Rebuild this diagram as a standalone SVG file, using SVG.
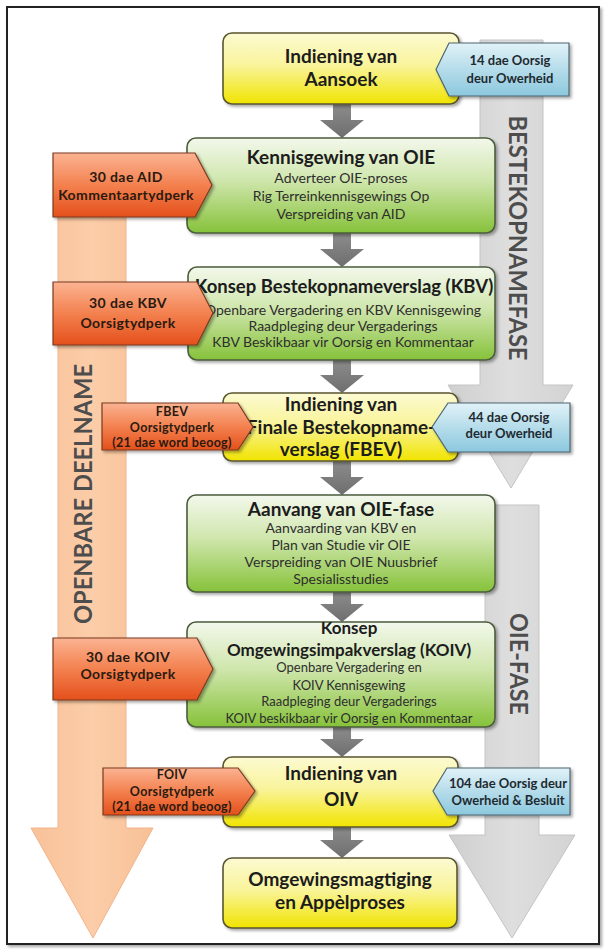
<svg xmlns="http://www.w3.org/2000/svg" width="607" height="952" viewBox="0 0 607 952">
<defs>
<linearGradient id="gYellow" x1="0" y1="0" x2="0" y2="1"><stop offset="0" stop-color="#fcfad2"/><stop offset="0.45" stop-color="#f9f49c"/><stop offset="1" stop-color="#f1e400"/></linearGradient>
<linearGradient id="gGreen" x1="0" y1="0" x2="0" y2="1"><stop offset="0" stop-color="#f3f8ec"/><stop offset="0.45" stop-color="#cfe6ac"/><stop offset="1" stop-color="#86c23a"/></linearGradient>
<linearGradient id="gOrange" x1="0" y1="0" x2="0" y2="1"><stop offset="0" stop-color="#fbb392"/><stop offset="0.5" stop-color="#f3814f"/><stop offset="1" stop-color="#e4501c"/></linearGradient>
<linearGradient id="gBlue" x1="0" y1="0" x2="0" y2="1"><stop offset="0" stop-color="#e2f2f8"/><stop offset="0.5" stop-color="#b5dcea"/><stop offset="1" stop-color="#8cc8de"/></linearGradient>
<linearGradient id="gGray" x1="0" y1="0" x2="1" y2="0"><stop offset="0" stop-color="#cfcfcf"/><stop offset="0.5" stop-color="#dedede"/><stop offset="1" stop-color="#d3d3d3"/></linearGradient>
<linearGradient id="gPeach" x1="0" y1="0" x2="1" y2="0"><stop offset="0" stop-color="#f8c199"/><stop offset="0.5" stop-color="#fbcda8"/><stop offset="1" stop-color="#f7c097"/></linearGradient>
<linearGradient id="gConn" x1="0" y1="0" x2="0" y2="1"><stop offset="0" stop-color="#8c8c8c"/><stop offset="1" stop-color="#6e6e6e"/></linearGradient>
<filter id="sh" x="-10%" y="-10%" width="125%" height="130%"><feDropShadow dx="2" dy="2" stdDeviation="1.5" flood-color="#000" flood-opacity="0.35"/></filter>
<style>
.box-y{fill:url(#gYellow);stroke:#5a5630;stroke-width:1.6;filter:url(#sh)}
.box-g{fill:url(#gGreen);stroke:#4c5c3c;stroke-width:1.6;filter:url(#sh)}
.co-o{fill:url(#gOrange);stroke:#7a3a20;stroke-width:1.2;filter:url(#sh)}
.co-b{fill:url(#gBlue);stroke:#4d6570;stroke-width:1.2;filter:url(#sh)}
.conn{fill:url(#gConn)}
text{font-family:Lato,"Liberation Sans",sans-serif;text-anchor:middle}
.t{font-size:19px;font-weight:700;fill:#1c1c1c}
.s{font-size:14px;fill:#2e2e2e}
.s13{font-size:13px;fill:#2e2e2e}
.c{font-size:14px;font-weight:700;fill:#2a1a10;letter-spacing:0.4px}
.c12{font-size:12.5px;font-weight:700;fill:#2a1a10;letter-spacing:0.3px}
.cb{font-size:13px;font-weight:700;fill:#1e2a30}
.lab{font-size:24px;font-weight:700;fill:#4d4d4d}
</style>
</defs>
<rect x="7" y="7" width="592" height="937" fill="#fff" stroke="#222" stroke-width="2" filter="url(#sh)"/>

<g id="phase-arrows">
<path d="M480,40 H543 V385 H573 L511,488 L448,385 H480 Z" fill="url(#gGray)" stroke="#c4c4c4" stroke-width="1"/>
<path d="M485,505 H539 V835 H575 L512,938 L449,835 H485 Z" fill="url(#gGray)" stroke="#c4c4c4" stroke-width="1"/>
<path d="M58,185 H126 V828 H153 L93,938 L31,828 H58 Z" fill="url(#gPeach)" stroke="#f2b48a" stroke-width="1"/>
<text class="lab" transform="translate(517,238) rotate(90)" dy="8" textLength="245" lengthAdjust="spacingAndGlyphs">BESTEKOPNAMEFASE</text>
<text class="lab" transform="translate(518,664) rotate(90)" dy="8" textLength="102" lengthAdjust="spacingAndGlyphs">OIE-FASE</text>
<text class="lab" transform="translate(84,494) rotate(-90)" dy="8" textLength="260" lengthAdjust="spacingAndGlyphs">OPENBARE DEELNAME</text>
</g>

<g id="connectors">
<path class="conn" d="M333,104 V120 H320 L342,138 L364,120 H351 V104 Z"/>
<path class="conn" d="M333,233 V249 H320 L342,267 L364,249 H351 V233 Z"/>
<path class="conn" d="M333,360 V375 H320 L342,393 L364,375 H351 V360 Z"/>
<path class="conn" d="M333,461 V477 H320 L342,495 L364,477 H351 V461 Z"/>
<path class="conn" d="M333,592 V604 H320 L342,622 L364,604 H351 V592 Z"/>
<path class="conn" d="M333,727 V739 H320 L342,757 L364,739 H351 V727 Z"/>
<path class="conn" d="M333,827 V840 H320 L342,858 L364,840 H351 V827 Z"/>
</g>

<g id="n-aansoek">
<rect class="box-y" x="223" y="33" width="236" height="71" rx="9"/>
<text class="t" x="341" y="63">Indiening van</text>
<text class="t" x="341" y="86">Aansoek</text>
</g>
<g id="n-kennisgewing">
<rect class="box-g" x="187" y="138" width="308" height="95" rx="9"/>
<text class="t" x="341" y="163.5">Kennisgewing van OIE</text>
<text class="s" x="341" y="183">Adverteer OIE-proses</text>
<text class="s" x="341" y="201">Rig Terreinkennisgewings Op</text>
<text class="s" x="341" y="219">Verspreiding van AID</text>
</g>
<g id="n-kbv">
<rect class="box-g" x="188" y="267" width="307" height="93" rx="9"/>
<text class="t" x="344" y="293" style="font-size:18.5px">Konsep Bestekopnameverslag (KBV)</text>
<text class="s" x="343" y="315">Openbare Vergadering en KBV Kennisgewing</text>
<text class="s" x="343" y="331">Raadpleging deur Vergaderings</text>
<text class="s" x="343" y="347">KBV Beskikbaar vir Oorsig en Kommentaar</text>
</g>
<g id="n-fbev">
<rect class="box-y" x="223" y="393" width="235" height="68" rx="9"/>
<text class="t" x="341" y="411">Indiening van</text>
<text class="t" x="341" y="434">Finale Bestekopname-</text>
<text class="t" x="341" y="456">verslag (FBEV)</text>
</g>
<g id="n-aanvang">
<rect class="box-g" x="187" y="495" width="308" height="97" rx="9"/>
<text class="t" x="341" y="516">Aanvang van OIE-fase</text>
<text class="s" x="341" y="533">Aanvaarding van KBV en</text>
<text class="s" x="341" y="550">Plan van Studie vir OIE</text>
<text class="s" x="341" y="567">Verspreiding van OIE Nuusbrief</text>
<text class="s" x="341" y="584">Spesialisstudies</text>
</g>
<g id="n-koiv">
<rect class="box-g" x="187" y="622" width="308" height="105" rx="9"/>
<text class="t" x="349" y="634" style="font-size:17px">Konsep</text>
<text class="t" x="349" y="656" style="font-size:17px">Omgewingsimpakverslag (KOIV)</text>
<text class="s13" x="349" y="672">Openbare Vergadering en</text>
<text class="s13" x="349" y="690">KOIV Kennisgewing</text>
<text class="s13" x="349" y="706">Raadpleging deur Vergaderings</text>
<text class="s13" x="349" y="723">KOIV beskikbaar vir Oorsig en Kommentaar</text>
</g>
<g id="n-oiv">
<rect class="box-y" x="223" y="757" width="235" height="70" rx="9"/>
<text class="t" x="341" y="780">Indiening van</text>
<text class="t" x="341" y="806">OIV</text>
</g>
<g id="n-magtiging">
<rect class="box-y" x="223" y="858" width="234" height="70" rx="9"/>
<text class="t" x="340" y="886">Omgewingsmagtiging</text>
<text class="t" x="340" y="909">en Appèlproses</text>
</g>

<g id="c-aid">
<path class="co-o" d="M53,153 H195 L212,185 L195,217 H53 Z"/>
<text class="c" x="126" y="182">30 dae AID</text>
<text class="c" x="126" y="200">Kommentaartydperk</text>
</g>
<g id="c-kbv">
<path class="co-o" d="M53,282 H197 L213,313 L197,345 H53 Z"/>
<text class="c" x="128" y="308">30 dae KBV</text>
<text class="c" x="128" y="328">Oorsigtydperk</text>
</g>
<g id="c-fbev">
<path class="co-o" d="M102,403 H238 L253,427 L238,450 H102 Z"/>
<text class="c12" x="172" y="416">FBEV</text>
<text class="c12" x="172" y="432">Oorsigtydperk</text>
<text class="c12" x="172" y="447">(21 dae word beoog)</text>
</g>
<g id="c-koiv">
<path class="co-o" d="M53,638 H197 L213,669 L197,700 H53 Z"/>
<text class="c" x="128" y="662">30 dae KOIV</text>
<text class="c" x="128" y="679">Oorsigtydperk</text>
</g>
<g id="c-foiv">
<path class="co-o" d="M103,768 H238 L255,791 L238,815 H103 Z"/>
<text class="c12" x="172" y="779">FOIV</text>
<text class="c12" x="172" y="796">Oorsigtydperk</text>
<text class="c12" x="172" y="811">(21 dae word beoog)</text>
</g>
<g id="c-14dae">
<path class="co-b" d="M569,43 H449 L436,69.5 L449,96 H569 Z"/>
<text class="cb" x="510" y="64.5">14 dae Oorsig</text>
<text class="cb" x="510" y="82.5">deur Owerheid</text>
</g>
<g id="c-44dae">
<path class="co-b" d="M570,403 H448 L432,427 L448,452 H570 Z"/>
<text class="cb" x="509" y="421.5">44 dae Oorsig</text>
<text class="cb" x="509" y="437.5">deur Owerheid</text>
</g>
<g id="c-104dae">
<path class="co-b" d="M570,768 H447 L433,791 L447,815 H570 Z"/>
<text class="cb" x="508" y="787.5">104 dae Oorsig deur</text>
<text class="cb" x="508" y="804.5">Owerheid &amp; Besluit</text>
</g>
</svg>
